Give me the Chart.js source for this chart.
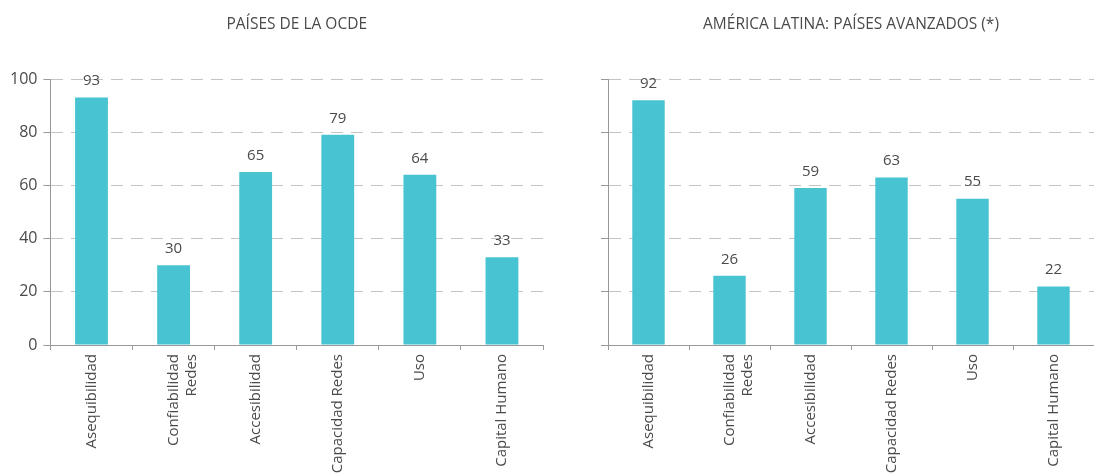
<!DOCTYPE html>
<html>
<head>
<meta charset="utf-8">
<script src="https://cdn.jsdelivr.net/npm/chart.js@4.4.0/dist/chart.umd.min.js"></script>
<style>
  html, body { margin: 0; padding: 0; background: #fff; overflow: hidden; }
  #wrap { width: 1094px; height: 475px; overflow: hidden; display: flex; }
  .box { width: 547px; height: 475px; position: relative; }
</style>
</head>
<body>
<div id="wrap">
  <div class="box"><canvas id="ocdeChart"></canvas></div>
  <div class="box"><canvas id="latamChart"></canvas></div>
</div>
<script>
// Categories shared by both panels
const categories = ["Asequibilidad", ["Confiabilidad", "Redes"], "Accesibilidad", "Capacidad Redes", "Uso", "Capital Humano"];

// Values
const ocdeValues = [93, 30, 65, 79, 64, 33];
const latamValues = [92, 26, 59, 63, 55, 22];

const ocdeTitle = "PAÍSES DE LA OCDE";
const latamTitle = "AMÉRICA LATINA: PAÍSES AVANZADOS (*)";

const barColor = "#48C3D2";
const textColor = "#4a4a4a";
const fontFamily = "'Open Sans', 'Noto Sans', sans-serif";

// Writes the value above each bar and the panel title centred over the plot area
const valueLabels = {
    id: "valueLabels",
    afterDatasetsDraw(chart, args, opts) {
        const ctx = chart.ctx;
        const area = chart.chartArea;
        ctx.save();
        ctx.fillStyle = textColor;
        ctx.textAlign = "center";

        ctx.font = "15.5px " + fontFamily;
        ctx.textBaseline = "middle";
        ctx.fillText(opts.title, (area.left + area.right) / 2, 25);

        ctx.font = "15px " + fontFamily;
        ctx.textBaseline = "bottom";
        chart.data.datasets.forEach((ds, i) => {
            chart.getDatasetMeta(i).data.forEach((bar, j) => {
                ctx.fillText(ds.data[j], bar.x, bar.y - 9);
            });
        });
        ctx.restore();
    }
};

function createBarChart(canvasId, title, values, showYLabels, padLeft, padRight) {
    const canvas = document.getElementById(canvasId);
    return new Chart(canvas, {
        type: "bar",
        data: {
            labels: categories,
            datasets: [{
                data: values,
                backgroundColor: barColor,
                barPercentage: 0.4,
                categoryPercentage: 1
            }]
        },
        options: {
            responsive: true,
            maintainAspectRatio: false,
            animation: false,
            layout: { padding: { left: padLeft, right: padRight, top: 79, bottom: 0 } },
            plugins: {
                legend: { display: false },
                tooltip: { enabled: false },
                title: { display: false },
                valueLabels: { title: title }
            },
            scales: {
                x: {
                    offset: true,
                    // the long labels run past the bottom edge, as in the original
                    afterFit: scale => { scale.height = 130; },
                    grid: {
                        offset: true,
                        drawOnChartArea: false,
                        drawTicks: true,
                        tickLength: 5,
                        tickColor: "#999"
                    },
                    border: { color: "#999", width: 1 },
                    ticks: {
                        color: textColor,
                        font: { family: fontFamily, size: 15 },
                        maxRotation: 90,
                        minRotation: 90,
                        autoSkip: false,
                        padding: 4
                    }
                },
                y: {
                    min: 0,
                    max: 100,
                    grid: {
                        color: "#c4c4c4",
                        tickColor: "#999",
                        tickLength: 7,
                        drawTicks: true
                    },
                    border: { color: "#999", width: 1, dash: [12, 8] },
                    ticks: {
                        stepSize: 20,
                        color: textColor,
                        font: { family: fontFamily, size: 16 },
                        padding: 6,
                        callback: v => showYLabels ? v : ""
                    }
                }
            }
        },
        plugins: [valueLabels]
    });
}

document.addEventListener("DOMContentLoaded", function() {
    createBarChart("ocdeChart", ocdeTitle, ocdeValues, true, 4, 4);
    createBarChart("latamChart", latamTitle, latamValues, false, 42, 0);
});
</script>
</body>
</html>
